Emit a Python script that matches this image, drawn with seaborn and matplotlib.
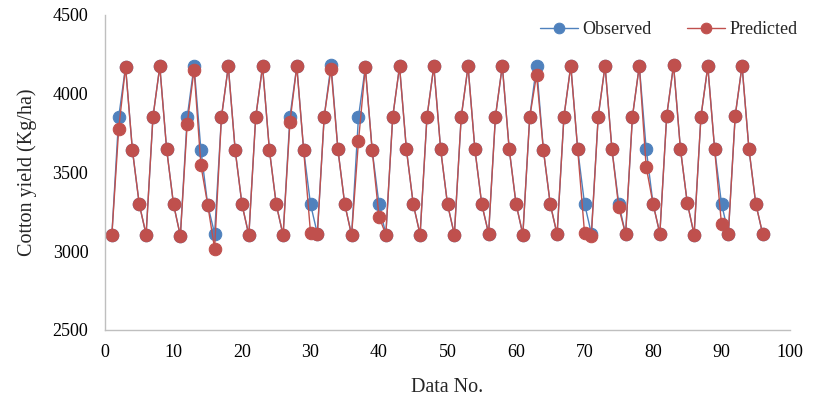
import matplotlib
matplotlib.use("Agg")
import matplotlib.pyplot as plt
import seaborn as sns
import numpy as np

data_no = list(range(1, 97))

observed = [
    3102, 3851, 4172, 3643, 3299, 3106, 3851, 4174, 3647, 3299,
    3098, 3851, 4178, 3643, 3293, 3112, 3851, 4174, 3643, 3297,
    3102, 3851, 4174, 3643, 3297, 3102, 3855, 4174, 3643, 3299,
    3112, 3855, 4185, 3647, 3299, 3102, 3851, 4168, 3643, 3299,
    3106, 3851, 4174, 3647, 3299, 3106, 3851, 4174, 3647, 3299,
    3106, 3851, 4174, 3647, 3299, 3112, 3855, 4178, 3652, 3303,
    3106, 3851, 4178, 3643, 3299, 3108, 3855, 4178, 3650, 3303,
    3112, 3855, 4178, 3650, 3303, 3108, 3855, 4178, 3652, 3303,
    3112, 3860, 4182, 3652, 3308, 3106, 3855, 4174, 3647, 3303,
    3112, 3860, 4178, 3652, 3303, 3112,
]

predicted = [
    3102, 3777, 4172, 3643, 3299, 3106, 3851, 4174, 3647, 3299,
    3098, 3809, 4153, 3546, 3293, 3017, 3851, 4174, 3643, 3297,
    3102, 3851, 4174, 3643, 3297, 3102, 3820, 4174, 3643, 3119,
    3112, 3855, 4159, 3647, 3299, 3102, 3697, 4168, 3643, 3219,
    3106, 3851, 4174, 3647, 3299, 3106, 3851, 4174, 3647, 3299,
    3106, 3851, 4174, 3647, 3299, 3112, 3855, 4178, 3652, 3303,
    3106, 3851, 4119, 3643, 3299, 3108, 3855, 4178, 3650, 3119,
    3098, 3855, 4178, 3650, 3278, 3108, 3855, 4178, 3537, 3303,
    3112, 3860, 4182, 3652, 3308, 3106, 3855, 4174, 3647, 3172,
    3112, 3860, 4178, 3652, 3303, 3112,
]

series_names = ["Observed", "Predicted"]
x_ticks = list(range(0, 101, 10))
y_ticks = [2500, 3000, 3500, 4000, 4500]

sns.set_theme(style="white")
plt.rcParams["font.family"] = ["Liberation Serif", "DejaVu Serif"]

fig = plt.figure(figsize=(8.19, 4.04), dpi=100)
ax = fig.add_axes([105 / 819, 1 - 330 / 404, (790 - 105) / 819, (330 - 15) / 404])

blue = "#4F81BD"
red = "#C0504D"

sns.lineplot(x=data_no, y=observed, ax=ax, color=blue, marker="o",
             markersize=9, markeredgecolor=blue, linewidth=1.0,
             label=series_names[0])
sns.lineplot(x=data_no, y=predicted, ax=ax, color=red, marker="o",
             markersize=9, markeredgecolor=red, linewidth=1.0,
             label=series_names[1])

ax.set_xlim(0, 100)
ax.set_ylim(2500, 4500)
ax.set_xticks(x_ticks)
ax.set_yticks(y_ticks)
ax.tick_params(axis="both", length=0, labelsize=13, colors="black")
ax.tick_params(axis="y", pad=12)
ax.tick_params(axis="x", pad=10)

for s in ["top", "right"]:
    ax.spines[s].set_visible(False)
for s in ["left", "bottom"]:
    ax.spines[s].set_color("#BFBFBF")
    ax.spines[s].set_linewidth(1.0)

ax.set_xlabel("Data No.", fontsize=14.5, labelpad=12)
ax.set_ylabel("Cotton yield (Kg/ha)", fontsize=14.5, labelpad=11)

leg = ax.legend(loc="center right", bbox_to_anchor=(798 / 819, 1 - 30 / 404),
                bbox_transform=fig.transFigure, ncol=2, frameon=False,
                fontsize=13, handlelength=2.1, columnspacing=2.0,
                handletextpad=0.25, borderpad=0, borderaxespad=0,
                markerscale=0.85)

fig.savefig("out.png", dpi=100)
